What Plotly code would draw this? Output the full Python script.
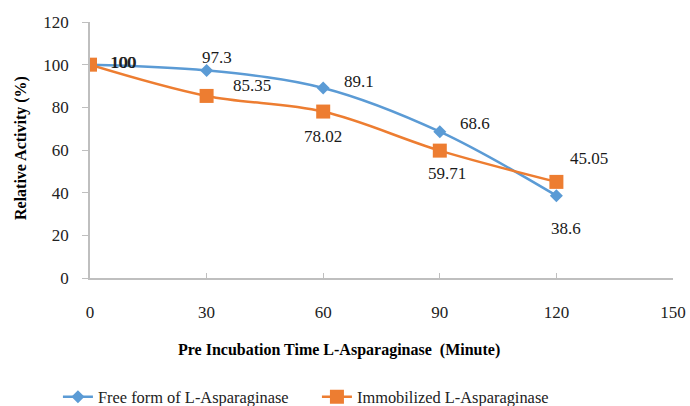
import plotly.graph_objects as go

time_min = [0, 30, 60, 90, 120]
free_form = [100, 97.3, 89.1, 68.6, 38.6]
immobilized = [100, 85.35, 78.02, 59.71, 45.05]
free_labels = ["100", "97.3", "89.1", "68.6", "38.6"]
immob_labels = ["100", "85.35", "78.02", "59.71", "45.05"]

# label offsets (pixels) for data labels
free_off = [(33, 2), (10, 13), (36, 6), (35, 8), (10, -33)]
immob_off = [(34, 2), (45, 10), (0, -25), (7, -23), (33, 23)]

BLUE = "#5B9BD5"
ORANGE = "#ED7D31"
FONT = "Times New Roman, Liberation Serif, serif"

fig = go.Figure()
fig.add_trace(go.Scatter(
    x=time_min, y=free_form, mode="lines+markers", name="Free form of L-Asparaginase",
    line=dict(color=BLUE, width=2.5, shape="spline", smoothing=1),
    marker=dict(symbol="diamond", size=10, color=BLUE),
))
fig.add_trace(go.Scatter(
    x=time_min, y=immobilized, mode="lines+markers", name="Immobilized L-Asparaginase",
    line=dict(color=ORANGE, width=2.5, shape="spline", smoothing=1),
    marker=dict(symbol="square", size=14, color=ORANGE),
))

anns = []
for xv, yv, t, (dx, dy) in zip(time_min, free_form, free_labels, free_off):
    anns.append(dict(x=xv, y=yv, text=t, showarrow=False, xshift=dx, yshift=dy,
                     font=dict(family=FONT, size=17, color="#1a1a1a")))
for xv, yv, t, (dx, dy) in zip(time_min, immobilized, immob_labels, immob_off):
    anns.append(dict(x=xv, y=yv, text=t, showarrow=False, xshift=dx, yshift=dy,
                     font=dict(family=FONT, size=17, color="#1a1a1a")))

anns.append(dict(xref="paper", yref="paper", x=(339 - 90) / 583, y=-(350 - 278) / 256,
                 text="<b>Pre Incubation Time L-Asparaginase  (Minute)</b>", showarrow=False,
                 xanchor="center", yanchor="middle",
                 font=dict(family=FONT, size=16, color="#000")))
anns.append(dict(xref="paper", yref="paper", x=-(90 - 21) / 583, y=(278 - 148) / 256,
                 text="<b>Relative Activity (%)</b>", showarrow=False, textangle=-90,
                 xanchor="center", yanchor="middle",
                 font=dict(family=FONT, size=16, color="#000")))

fig.update_layout(
    width=690, height=406,
    margin=dict(l=90, r=17, t=22, b=128, autoexpand=False),
    paper_bgcolor="white", plot_bgcolor="white",
    font=dict(family=FONT, size=17, color="#222"),
    annotations=anns,
    showlegend=True,
    legend=dict(orientation="h", x=-0.055, y=-(397 - 278) / 256, xanchor="left", yanchor="middle",
                font=dict(family=FONT, size=16.4, color="#222"),
                entrywidth=214, entrywidthmode="pixels", bgcolor="rgba(0,0,0,0)"),
)
fig.update_xaxes(range=[0, 150], tick0=0, dtick=30, showgrid=False, zeroline=False,
                 showline=True, linecolor="#BFBFBF", linewidth=1.5, automargin=False,
                 ticks="inside", ticklen=5, tickcolor="#BFBFBF",
                 ticklabelstandoff=18, tickfont=dict(family=FONT, size=17, color="#222"))
fig.update_yaxes(range=[0, 120], tick0=0, dtick=20, showgrid=False, zeroline=False,
                 showline=True, linecolor="#BFBFBF", linewidth=1.5, automargin=False,
                 ticks="outside", ticklen=6, tickcolor="#BFBFBF",
                 ticklabelstandoff=10, tickfont=dict(family=FONT, size=17, color="#222"))

fig.write_html("out.html", config={"displayModeBar": False},
               post_script="document.body.style.margin='0';document.body.style.padding='0';")
